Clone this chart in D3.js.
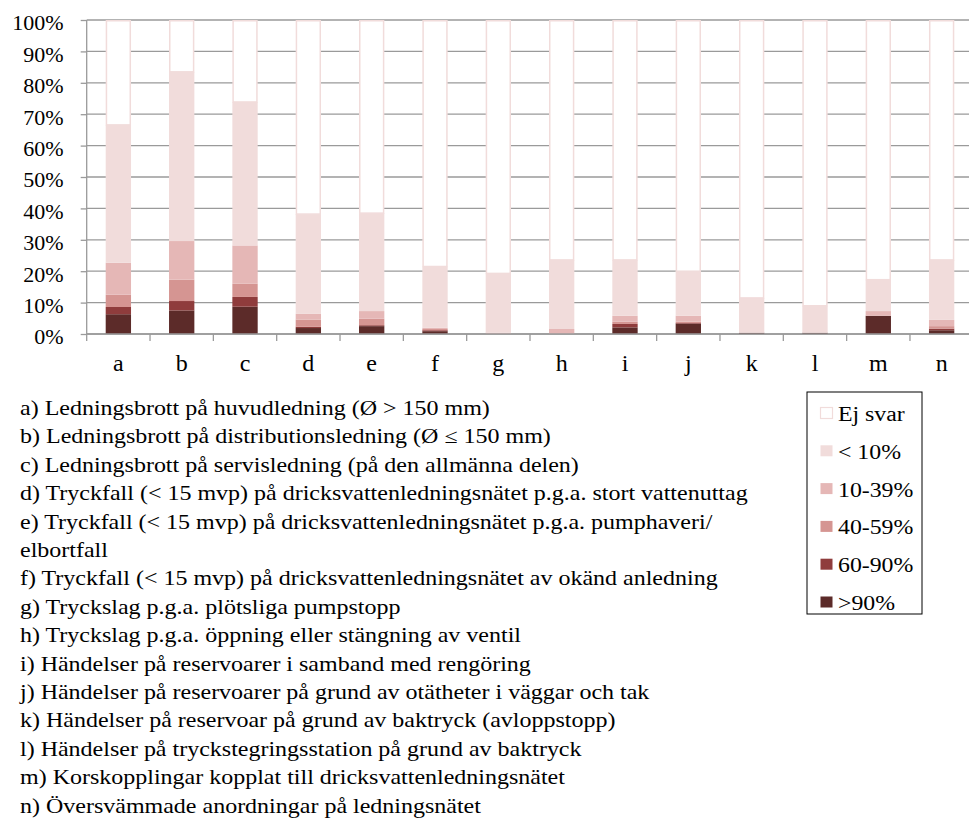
<!DOCTYPE html>
<html>
<head>
<meta charset="utf-8">
<script src="https://cdn.jsdelivr.net/npm/d3@7/dist/d3.min.js"></script>
<style>
  html, body { margin: 0; padding: 0; background: #fff; }
  svg { display: block; }
</style>
</head>
<body>
<svg id="chart" width="969" height="825"></svg>
<script>
// ---- Data ----
const categories = ["a","b","c","d","e","f","g","h","i","j","k","l","m","n"];
const seriesNames = [">90%", "60-90%", "40-59%", "10-39%", "< 10%", "Ej svar"];
const gt90   = [6.3, 7.5, 8.7, 1.9, 2.5, 0.9, 0.0, 0.0, 2.1, 3.3, 0.4, 0.4, 5.8, 1.2];
const p60_90 = [2.3, 3.0, 3.1, 0.4, 0.3, 0.3, 0.0, 0.0, 1.1, 0.2, 0.0, 0.0, 0.0, 0.5];
const p40_59 = [3.9, 6.8, 4.2, 2.3, 2.1, 0.4, 0.0, 0.0, 0.7, 0.4, 0.0, 0.0, 0.0, 0.8];
const p10_39 = [10.2, 12.3, 12.2, 1.8, 2.4, 0.4, 0.4, 1.6, 1.9, 1.9, 0.0, 0.0, 1.5, 2.0];
const lt10   = [43.9, 53.9, 45.7, 31.8, 31.2, 19.5, 18.9, 22.0, 17.8, 14.2, 11.1, 8.6, 10.0, 19.1];
const ejSvar = [33.4, 16.5, 26.1, 61.8, 61.5, 78.5, 80.7, 76.4, 76.4, 80.0, 88.5, 91.0, 82.7, 76.4];
const yTicks = [0, 10, 20, 30, 40, 50, 60, 70, 80, 90, 100];
const descriptions = [
  "a) Ledningsbrott på huvudledning (Ø > 150 mm)",
  "b) Ledningsbrott på distributionsledning (Ø ≤ 150 mm)",
  "c) Ledningsbrott på servisledning (på den allmänna delen)",
  "d) Tryckfall (< 15 mvp) på dricksvattenledningsnätet p.g.a. stort vattenuttag",
  "e) Tryckfall (< 15 mvp) på dricksvattenledningsnätet p.g.a. pumphaveri/",
  "elbortfall",
  "f) Tryckfall (< 15 mvp) på dricksvattenledningsnätet av okänd anledning",
  "g) Tryckslag p.g.a. plötsliga pumpstopp",
  "h) Tryckslag p.g.a. öppning eller stängning av ventil",
  "i) Händelser på reservoarer i samband med rengöring",
  "j) Händelser på reservoarer på grund av otätheter i väggar och tak",
  "k) Händelser på reservoar på grund av baktryck (avloppstopp)",
  "l) Händelser på tryckstegringsstation på grund av baktryck",
  "m) Korskopplingar kopplat till dricksvattenledningsnätet",
  "n) Översvämmade anordningar på ledningsnätet"
];

// ---- Build table ----
const seriesArrays = [gt90, p60_90, p40_59, p10_39, lt10, ejSvar];
const table = categories.map((c, i) => {
  const row = { cat: c };
  seriesNames.forEach((s, k) => row[s] = seriesArrays[k][i]);
  return row;
});
const colors = {
  ">90%": "#5c2b29",
  "60-90%": "#8f3c3c",
  "40-59%": "#d59592",
  "10-39%": "#e5b7b6",
  "< 10%": "#f1dcdb",
  "Ej svar": "#ffffff"
};
const FONT = "'Liberation Serif', 'Times New Roman', serif";

const svg = d3.select("#chart");
const pLeft = 86.7, pRight = 973.3, pTop = 20, pBottom = 334;

const x = d3.scaleBand().domain(categories).range([pLeft, pRight]).paddingInner(0.6).paddingOuter(0.3);
const y = d3.scaleLinear().domain([0, 100]).range([pBottom, pTop]);

// gridlines
svg.append("g").selectAll("line").data(yTicks).join("line")
  .attr("x1", pLeft).attr("x2", pRight)
  .attr("y1", d => y(d)).attr("y2", d => y(d))
  .attr("stroke", "#9a9a9a").attr("stroke-width", 1.3);

// stacked bars
const stack = d3.stack().keys(seriesNames)(table);
svg.append("g").selectAll("g").data(stack).join("g")
  .attr("fill", d => colors[d.key])
  .each(function(s) {
    const isEj = s.key === "Ej svar";
    d3.select(this).selectAll("rect").data(s).join("rect")
      .attr("x", d => x(d.data.cat) + (isEj ? 0.75 : 0))
      .attr("width", x.bandwidth() - (isEj ? 1.5 : 0))
      .attr("y", d => y(d[1]) + (isEj ? 0.75 : 0))
      .attr("height", d => Math.max(0, y(d[0]) - y(d[1]) - (isEj ? 0.75 : 0)))
      .attr("stroke", isEj ? "#f1dcdb" : "none")
      .attr("stroke-width", isEj ? 1.5 : 0);
  });

// y axis
const yAxis = d3.axisLeft(y).tickValues(yTicks).tickFormat(d => d + "%").tickSize(6).tickPadding(17);
const gy = svg.append("g").attr("transform", `translate(${pLeft},0)`).call(yAxis);
gy.attr("font-family", null).attr("font-size", null)
  .style("font-family", FONT).style("font-size", "22px");
gy.select(".domain").attr("stroke", "#9a9a9a").attr("stroke-width", 1.3).attr("d", `M0,${pTop}V${pBottom}`);
gy.selectAll(".tick line").attr("stroke", "#9a9a9a").attr("stroke-width", 1.3);
gy.selectAll(".tick text").attr("fill", "#000").attr("dy", "0.45em");

// x axis
const xAxis = d3.axisBottom(x).tickSize(0);
const gx = svg.append("g").attr("transform", `translate(0,${pBottom})`).call(xAxis);
gx.attr("font-family", null).attr("font-size", null)
  .style("font-family", FONT).style("font-size", "24px");
gx.select(".domain").attr("stroke", "#9a9a9a").attr("stroke-width", 1.3).attr("d", `M${pLeft},0H${pRight}`);
gx.selectAll(".tick text").attr("fill", "#000").attr("y", 37).attr("dy", 0);
// boundary ticks
const bounds = categories.map(c => x(c) - x.step() * x.paddingOuter()).concat([pRight]);
gx.append("g").selectAll("line").data(bounds).join("line")
  .attr("x1", d => d).attr("x2", d => d).attr("y1", 0).attr("y2", 7)
  .attr("stroke", "#9a9a9a").attr("stroke-width", 1.3);

// descriptions (source text is horizontally stretched)
svg.append("g").attr("transform", "translate(20,0) scale(1.2,1)")
  .style("font-family", FONT).style("font-size", "20px")
  .selectAll("text").data(descriptions).join("text")
  .attr("x", 0).attr("y", (d, i) => 415 + i * 28.4)
  .attr("fill", "#000")
  .text(d => d);

// legend
const lg = svg.append("g").style("font-family", FONT).style("font-size", "20px");
lg.append("rect").attr("x", 807).attr("y", 392).attr("width", 115).attr("height", 222)
  .attr("fill", "#fff").attr("stroke", "#000").attr("stroke-width", 1);
const legendOrder = ["Ej svar", "< 10%", "10-39%", "40-59%", "60-90%", ">90%"];
const items = lg.selectAll("g.item").data(legendOrder).join("g").attr("class", "item")
  .attr("transform", (d, i) => `translate(820, ${413 + i * 37.8})`);
items.append("rect").attr("x", 0.5).attr("y", -5.5).attr("width", 12).attr("height", 11)
  .attr("fill", d => colors[d])
  .attr("stroke", d => d === "Ej svar" ? "#f1dcdb" : "none").attr("stroke-width", 1.2);
items.append("text").attr("transform", "translate(18,8) scale(1.19,1)").attr("fill", "#000").text(d => d);
</script>
</body>
</html>
